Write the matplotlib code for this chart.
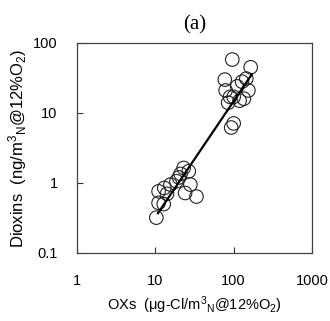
import matplotlib
matplotlib.use("Agg")
import matplotlib.pyplot as plt
import numpy as np

# OXs (ug-Cl/m3N) vs Dioxins (ng/m3N)
oxs = [96, 165, 77, 145, 111, 154, 79, 90, 135, 85, 100, 119, 100, 93, 128,
       10.3, 11, 12.8, 11, 14.1, 15.6, 18.6, 21, 23, 26.7, 28, 24, 33.5, 13, 20]
dioxins = [58, 45, 30, 31, 24, 21, 21, 17, 16, 14, 17, 15, 7.1, 6.2, 28,
           0.32, 0.52, 0.50, 0.76, 0.70, 0.95, 1.06, 1.35, 1.64, 1.47, 0.95, 0.72, 0.64, 0.85, 1.2]

# regression line end points
fit_x = [10.8, 170]
fit_y = [0.37, 35.5]

x_ticks = [1, 10, 100, 1000]
y_ticks = [0.1, 1, 10, 100]

plt.rcParams['font.family'] = ['Liberation Sans', 'DejaVu Sans']
plt.rcParams['mathtext.fontset'] = 'custom'
plt.rcParams['mathtext.rm'] = 'Liberation Sans'
plt.rcParams['mathtext.it'] = 'Liberation Sans'

fig = plt.figure(figsize=(3.3, 3.21), dpi=100)
ax = fig.add_axes([77 / 330, 1 - 253 / 321, 235 / 330, 210 / 321])

ax.scatter(oxs, dioxins, s=95, facecolors='none', edgecolors='#222222', linewidths=0.8, zorder=2)
ax.plot(fit_x, fit_y, color='black', lw=1.6, zorder=3)

ax.set_xscale('log')
ax.set_yscale('log')
ax.set_xlim(1, 1000)
ax.set_ylim(0.1, 100)
ax.set_xticks(x_ticks)
ax.set_xticklabels(['1', '10', '100', '1000'])
ax.set_yticks(y_ticks)
ax.set_yticklabels(['0.1', '1', '10', '100'])
ax.minorticks_off()
ax.tick_params(direction='in', length=4, width=0.8, labelsize=10.5, colors='#333333', labelcolor='black')
ax.tick_params(axis='x', pad=15)
ax.tick_params(axis='y', pad=14)
for sp in ax.spines.values():
    sp.set_color('#444444')
    sp.set_linewidth(0.9)

ax.set_title('(a)', family='Liberation Serif', fontsize=15, pad=10)
ax.set_xlabel('OXs  (μg-Cl/m$^3$$_{\\rm N}$@12%O$_2$)', fontsize=10.5, labelpad=5)
ax.set_ylabel('Dioxins  (ng/m$^3$$_{\\rm N}$@12%O$_2$)', fontsize=12, labelpad=3)

fig.savefig('out.png', dpi=100)
